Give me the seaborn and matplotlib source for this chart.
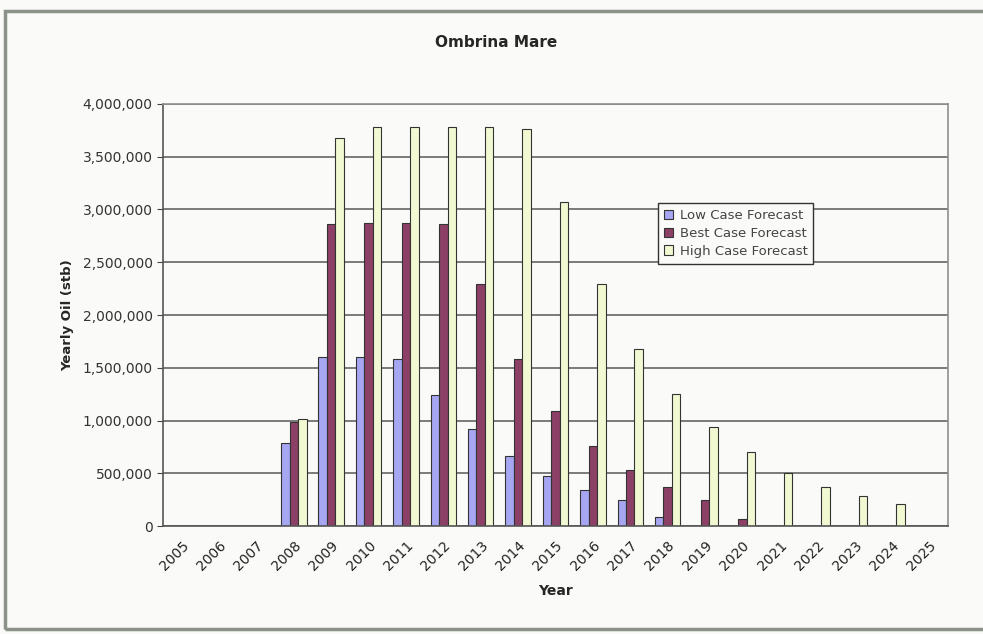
import numpy as np
import pandas as pd
import seaborn as sns
import matplotlib.pyplot as plt
from matplotlib.patches import Rectangle
from matplotlib.ticker import FuncFormatter

years = [str(y) for y in range(2005, 2026)]
nan = np.nan
low_case = [nan, nan, nan, 790000, 1600000, 1600000, 1580000, 1240000, 920000, 660000,
            470000, 340000, 250000, 90000, nan, nan, nan, nan, nan, nan, nan]
best_case = [nan, nan, nan, 990000, 2860000, 2870000, 2870000, 2860000, 2290000, 1580000,
             1090000, 760000, 530000, 370000, 250000, 66000, nan, nan, nan, nan, nan]
high_case = [nan, nan, nan, 1010000, 3680000, 3780000, 3780000, 3780000, 3780000, 3760000,
             3070000, 2290000, 1680000, 1250000, 940000, 700000, 500000, 370000, 280000, 210000, nan]
series_names = ["Low Case Forecast", "Best Case Forecast", "High Case Forecast"]
colors = ["#9999FF", "#993366", "#F4FFCC"]

df = pd.DataFrame({"Year": years, series_names[0]: low_case,
                   series_names[1]: best_case, series_names[2]: high_case})
long = df.melt(id_vars="Year", var_name="Series", value_name="Oil")

sns.set_style("white")
plt.rcParams["font.family"] = ["DejaVu Sans"]
bg = "#FAFAF8"

fig = plt.figure(figsize=(9.83, 6.34), dpi=100, facecolor=bg)
ax = fig.add_axes([0.1658, 0.1703, 0.7986, 0.6657])
ax.set_facecolor(bg)

sns.barplot(data=long, x="Year", y="Oil", hue="Series", order=years,
            hue_order=series_names, palette=colors, width=0.68,
            edgecolor="#333333", linewidth=0.8, errorbar=None, ax=ax)

ax.set_ylim(0, 4000000)
ax.set_yticks(np.arange(0, 4000001, 500000))
ax.yaxis.set_major_formatter(FuncFormatter(lambda v, p: f"{v:,.0f}"))
ax.set_xlim(-0.5, len(years) - 0.5)
ax.yaxis.grid(True, color="#707070", linewidth=1.3)
ax.set_axisbelow(True)

# category ticks sit between groups, like the spreadsheet chart
ax.set_xticks(np.arange(-0.5, len(years)), minor=True)
ax.tick_params(axis="x", which="major", length=0, pad=9)
ax.tick_params(axis="x", which="minor", length=4, color="#444444", direction="out")
ax.tick_params(axis="y", length=4, color="#444444", direction="out", left=True)
ax.set_xticks(range(len(years)))
ax.set_xticklabels(years, rotation=45, ha="right", rotation_mode="anchor",
                   fontsize=10, color="#222222")
for lab in ax.get_yticklabels():
    lab.set_fontsize(10)
    lab.set_color("#333333")

for side in ["left", "bottom"]:
    ax.spines[side].set_color("#555555")
    ax.spines[side].set_linewidth(1.2)
for side in ["top", "right"]:
    ax.spines[side].set_color("#909090")
    ax.spines[side].set_linewidth(1.2)

ax.set_xlabel("Year", fontsize=10, fontweight="bold", labelpad=8)
ax.set_ylabel("Yearly Oil (stb)", fontsize=9.5, fontweight="bold", labelpad=6)
fig.text(0.505, 0.933, "Ombrina Mare", ha="center", va="center",
         fontsize=11, fontweight="bold")

leg = ax.legend(loc="upper left", bbox_to_anchor=(0.622, 0.78), fontsize=9.5,
                frameon=True, fancybox=False, handlelength=0.7, handleheight=0.7,
                handletextpad=0.5, borderpad=0.45, labelspacing=0.35)
leg.get_frame().set_edgecolor("#333333")
leg.get_frame().set_facecolor(bg)
leg.get_frame().set_alpha(1)
for t in leg.get_texts():
    t.set_color("#444444")

fig.patches.append(Rectangle((0.005, 0.008), 1.1, 0.975, transform=fig.transFigure,
                             fill=False, edgecolor="#8A928A", linewidth=2.5))

fig.savefig("out.png", dpi=100, facecolor=bg)
